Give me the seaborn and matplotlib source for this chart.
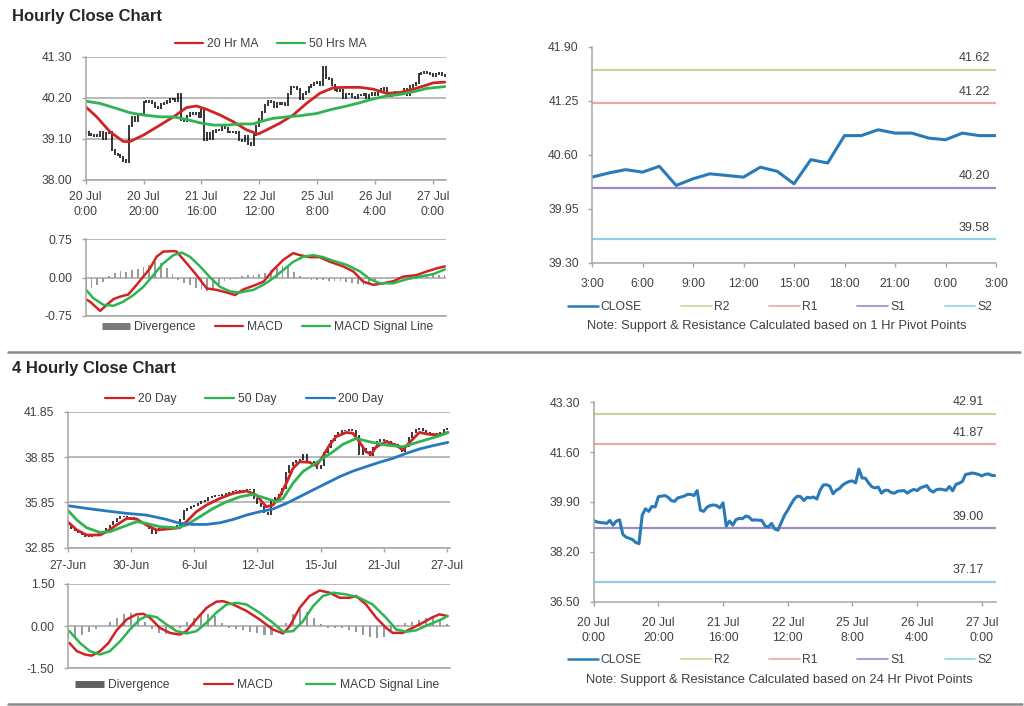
import numpy as np
import seaborn as sns
from matplotlib import pyplot as plt
from matplotlib.lines import Line2D

# ---- hourly data, 20 Jul 0:00 -> 27 Jul (one close per hourly bar) ----
hourly_close = [
    39.27, 39.22, 39.20, 39.19, 39.17, 39.27, 39.11, 39.25, 39.29, 38.80,
    38.70, 38.66, 38.62, 38.52, 38.48, 39.45, 39.67, 39.58, 39.75, 39.73,
    40.08, 40.10, 40.12, 40.06, 39.95, 39.92, 40.04, 40.07, 40.10, 40.16,
    40.16, 40.12, 40.29, 39.62, 39.58, 39.72, 39.78, 39.80, 39.78, 39.70,
    39.87, 39.08, 39.25, 39.11, 39.30, 39.34, 39.33, 39.42, 39.39, 39.28,
    39.29, 39.28, 39.27, 39.08, 39.05, 39.17, 38.98, 38.94, 39.20, 39.45,
    39.62, 39.82, 40.00, 40.10, 40.08, 39.95, 40.06, 40.04, 40.07, 40.00,
    40.30, 40.48, 40.49, 40.44, 40.18, 40.30, 40.36, 40.48, 40.55, 40.60,
    40.62, 40.55, 41.02, 40.72, 40.71, 40.55, 40.42, 40.38, 40.41, 40.20,
    40.30, 40.30, 40.22, 40.20, 40.27, 40.28, 40.29, 40.20, 40.28, 40.33,
    40.29, 40.38, 40.42, 40.46, 40.30, 40.24, 40.32, 40.34, 40.32, 40.30,
    40.43, 40.28, 40.50, 40.54, 40.60, 40.84, 40.86, 40.89, 40.87, 40.84,
    40.79, 40.84, 40.86, 40.81, 40.80]
hourly_ticks = [0, 20, 40, 60, 80, 100, 120]
hourly_labels = ['20 Jul\n0:00', '20 Jul\n20:00', '21 Jul\n16:00', '22 Jul\n12:00',
                 '25 Jul\n8:00', '26 Jul\n4:00', '27 Jul\n0:00']

ma20_hr_x = [0, 3.8, 8.4, 13, 15.3, 19.9, 25.7, 30.3, 34.9, 38.3, 41.8, 46.4, 51, 55.6, 59.6,
             62.5, 67.1, 71.7, 76.3, 80.9, 85.5, 90.2, 94.8, 99.4, 104, 108.6, 113.2, 117.8, 120.1, 124.1]
ma20_hr = [39.96, 39.69, 39.29, 39.03, 39.03, 39.20, 39.47, 39.69, 39.94, 39.98, 39.89, 39.74, 39.56, 39.34, 39.23,
           39.34, 39.52, 39.74, 40.05, 40.32, 40.47, 40.48, 40.48, 40.43, 40.32, 40.34, 40.43, 40.54, 40.60, 40.62]
ma50_hr_x = [0, 4.9, 9.6, 15.3, 19.9, 25.7, 30.3, 34.9, 39.5, 44.1, 48.7, 53.3, 57.9, 60.2,
             64.8, 69.4, 74, 79.8, 85.5, 90.2, 94.8, 99.4, 104, 108.6, 113.2, 117.8, 124.1]
ma50_hr = [40.11, 40.05, 39.94, 39.80, 39.74, 39.69, 39.69, 39.62, 39.53, 39.47, 39.47, 39.50, 39.50, 39.56,
           39.65, 39.69, 39.72, 39.78, 39.90, 39.98, 40.07, 40.17, 40.25, 40.29, 40.36, 40.45, 40.50]

macd_hr_x = [0, 1.5, 5, 7.3, 9.6, 11.9, 14.7, 17.6, 19.9, 22.2, 24.5, 26.8, 30.3, 31.4, 34.9,
             38.3, 41.8, 45.3, 48.7, 51.6, 54.5, 57.9, 61.4, 64.8, 68.3, 71.7, 74, 77.5, 80.9, 84.4,
             89, 92.5, 95.9, 99.4, 102.8, 106.3, 109.7, 114.3, 117.8, 121.2, 124.1]
macd_hr = [-0.42, -0.47, -0.65, -0.53, -0.42, -0.37, -0.33, -0.14, 0.02, 0.18, 0.41, 0.51, 0.52, 0.51, 0.28,
           0.05, -0.21, -0.24, -0.29, -0.34, -0.23, -0.16, -0.08, 0.15, 0.35, 0.48, 0.44, 0.40, 0.40, 0.31,
           0.22, 0.12, -0.08, -0.14, -0.11, -0.07, 0.02, 0.05, 0.12, 0.18, 0.22]
signal_hr_x = [0, 2.6, 6.1, 9.6, 13, 16.5, 19.9, 23.4, 26.8, 30.3, 33.2, 36, 39.5, 42.9, 46.4,
               49.9, 53.3, 57.9, 61.4, 64.8, 68.3, 71.7, 75.2, 78.6, 82.1, 85.5, 90.2, 94.8, 98.2,
               101.7, 106.3, 110.9, 115.5, 120.1, 124.1]
signal_hr = [-0.23, -0.40, -0.53, -0.55, -0.47, -0.34, -0.18, 0.05, 0.28, 0.44, 0.49, 0.41, 0.22, 0.01, -0.18,
             -0.27, -0.29, -0.24, -0.14, -0.01, 0.15, 0.31, 0.41, 0.44, 0.40, 0.33, 0.25, 0.12, -0.03,
             -0.11, -0.11, -0.03, 0.02, 0.07, 0.16]
# divergence, every second hourly bar
div_hr = [-0.22, -0.20, -0.15, -0.08, 0.04, 0.10, 0.13, 0.12, 0.14, 0.17,
          0.20, 0.24, 0.30, 0.28, 0.18, 0.08, -0.04, -0.10, -0.14, -0.20,
          -0.25, -0.27, -0.22, -0.12, -0.06, -0.04, -0.02, 0.03, 0.05, 0.06,
          0.07, 0.10, 0.14, 0.18, 0.22, 0.23, 0.12, 0.04, -0.03, -0.04,
          -0.05, -0.05, -0.06, -0.07, -0.06, -0.08, -0.10, -0.12, -0.14, -0.10,
          -0.05, -0.03, -0.02, 0.01, 0.02, 0.03, 0.04, 0.05, 0.05, 0.06,
          0.06, 0.05, 0.05]

# ---- last 24 hours, 1 Hr pivots ----
close_1h = [40.33, 40.38, 40.42, 40.39, 40.46, 40.23, 40.31, 40.37, 40.35, 40.33, 40.45, 40.40, 40.25,
            40.54, 40.50, 40.83, 40.83, 40.90, 40.86, 40.86, 40.80, 40.78, 40.86, 40.83, 40.83]
hour_labels = ['3:00', '6:00', '9:00', '12:00', '15:00', '18:00', '21:00', '0:00', '3:00']
pivot_names = ['R2', 'R1', 'S1', 'S2']
pivots_1h = [41.62, 41.22, 40.20, 39.58]
pivots_24h = [42.91, 41.87, 39.00, 37.17]

# ---- 4 hourly data, 27-Jun -> 27-Jul ----
close_4h = [
    34.40, 34.15, 34.00, 33.85, 33.70, 33.60, 33.62, 33.70, 33.75, 33.78,
    33.90, 34.10, 34.35, 34.60, 34.80, 34.92, 34.95, 34.88, 34.82, 34.72,
    34.62, 34.55, 34.40, 34.10, 33.80, 34.05, 34.10, 34.12, 34.15, 34.12,
    34.18, 34.30, 34.70, 35.30, 35.45, 35.55, 35.65, 35.75, 35.90, 36.00,
    36.15, 36.22, 36.28, 36.33, 36.40, 36.45, 36.50, 36.60, 36.64, 36.66,
    36.62, 36.68, 36.70, 36.10, 35.75, 35.55, 35.15, 35.02, 35.95, 36.20,
    36.40, 36.75, 37.85, 38.30, 38.50, 38.60, 38.70, 39.05, 38.55, 38.55,
    38.40, 38.10, 38.30, 39.15, 39.50, 39.95, 40.30, 40.50, 40.58, 40.62,
    40.68, 40.60, 40.30, 39.00, 39.42, 39.20, 38.98, 39.50, 39.90, 40.02,
    39.95, 39.86, 39.78, 39.65, 39.50, 39.20, 39.55, 40.15, 40.50, 40.70,
    40.75, 40.62, 40.48, 40.42, 40.40, 40.37, 40.50, 40.68, 40.75]
day_ticks = [0, 18, 36, 54, 72, 90, 108]
day_labels = ['27-Jun', '30-Jun', '6-Jul', '12-Jul', '15-Jul', '21-Jul', '27-Jul']

ma20_4h_x = [0, 2.6, 5.4, 9.2, 11.1, 13.9, 16.8, 19.6, 22.4, 25.3, 28.1, 31.9, 33.8, 36.6, 39.5,
             43.3, 47.1, 50.9, 53.7, 56.5, 58.4, 60.3, 62.2, 64.1, 66, 68.8, 70.7, 72.6, 74.5, 76.4,
             79.3, 81.2, 83, 84.9, 86.4, 87.8, 90.6, 93.5, 95.4, 97.3, 100.1, 102.9, 105.8, 108.2]
ma20_4h = [34.57, 34.02, 33.69, 33.69, 33.91, 34.35, 34.79, 34.75, 34.35, 34.02, 34.08, 34.17, 34.57, 35.23, 35.67,
           36.11, 36.45, 36.60, 36.33, 35.56, 35.67, 36.22, 37.11, 38.10, 38.54, 38.50, 38.28, 38.87, 39.64, 40.20,
           40.48, 40.42, 39.86, 39.20, 39.03, 39.53, 39.86, 39.64, 39.31, 39.82, 40.48, 40.35, 40.31, 40.48]
ma50_4h_x = [0, 2.6, 5.4, 9.2, 12, 15.8, 19.6, 22.4, 26.2, 31, 33.8, 37.6, 41.4, 45.2, 49, 52.7,
             56.5, 59.4, 61.3, 64.1, 66.9, 69.8, 72.6, 75.5, 78.3, 82.1, 85.9, 90.6, 95.4, 100.1, 104.9, 108.2]
ma50_4h = [35.34, 34.68, 34.17, 33.86, 33.91, 34.24, 34.57, 34.46, 34.24, 34.17, 34.35, 34.90, 35.45, 35.89, 36.22, 36.38,
           36.11, 35.89, 36.11, 37.11, 37.88, 38.32, 38.76, 39.20, 39.69, 40.08, 39.86, 39.64, 39.53, 39.86, 40.19, 40.46]
ma200_4h_x = [0, 5.4, 11.1, 16.8, 22.4, 28.1, 31.9, 35.7, 39.5, 43.3, 47.1, 50.9, 54.6, 58.4,
              62.2, 66, 69.8, 73.6, 77.4, 81.2, 84.9, 88.7, 92.5, 96.3, 100.1, 103.9, 108.2]
ma200_4h = [35.63, 35.45, 35.28, 35.12, 35.01, 34.72, 34.46, 34.39, 34.39, 34.50, 34.72, 35.01, 35.23, 35.41,
            35.78, 36.22, 36.67, 37.11, 37.55, 37.92, 38.21, 38.50, 38.76, 39.09, 39.38, 39.60, 39.82]

macd_4h_x = [0.5, 2.6, 4.9, 6.8, 9.2, 11.6, 13.9, 16.8, 19.6, 21.5, 23.4, 26.2, 29.1, 31.9, 33.8,
             36.6, 39.5, 42.3, 44.2, 47.1, 50.9, 54.6, 58.4, 61.3, 63.2, 66, 68.8, 71.7, 74.5, 77.4,
             80.2, 82.1, 84.9, 87.8, 90.6, 92.5, 95.4, 98.2, 101, 103.9, 105.8, 108.1]
macd_4h = [-0.60, -0.89, -1.01, -1.05, -0.89, -0.60, -0.15, 0.24, 0.42, 0.44, 0.30, -0.06, -0.24, -0.30, -0.18,
           0.24, 0.65, 0.87, 0.89, 0.77, 0.54, 0.24, -0.12, -0.26, 0.0, 0.65, 1.07, 1.27, 1.19, 1.01,
           1.01, 1.07, 0.77, 0.30, -0.06, -0.24, -0.24, -0.06, 0.12, 0.32, 0.42, 0.36]
signal_4h_x = [0.5, 3.5, 6.3, 9.2, 12, 14.9, 17.7, 20.5, 22.9, 25.3, 28.1, 31, 33.8, 36.6, 39.5,
               42.3, 45.2, 48, 50.9, 54.6, 58.4, 61.3, 64.1, 67, 69.8, 72.6, 75.5, 79.3, 83, 86.8,
               90.6, 93.5, 96.3, 99.1, 102.9, 106.7, 108.1]
signal_4h = [-0.18, -0.60, -0.89, -1.01, -0.89, -0.54, -0.12, 0.24, 0.38, 0.32, 0.06, -0.18, -0.26, -0.18, 0.12,
             0.48, 0.77, 0.83, 0.77, 0.48, 0.12, -0.20, -0.18, 0.18, 0.71, 1.07, 1.19, 1.13, 1.01, 0.77,
             0.30, -0.12, -0.20, -0.15, 0.06, 0.26, 0.36]
# divergence, every second 4h bar
div_4h = [-0.45, -0.40, -0.30, -0.20, -0.10, 0.02, 0.15, 0.30, 0.45, 0.48,
          0.35, 0.15, -0.10, -0.25, -0.28, -0.10, -0.05, 0.15, 0.30, 0.40,
          0.45, 0.35, 0.10, -0.05, -0.10, -0.15, -0.20, -0.25, -0.30, -0.30,
          -0.10, 0.10, 0.45, 0.62, 0.50, 0.30, 0.08, -0.05, -0.08, -0.08,
          -0.12, -0.20, -0.32, -0.40, -0.42, -0.40, -0.15, 0.05, 0.10, 0.15,
          0.22, 0.28, 0.30, 0.20, 0.08]

W, H = 1024, 706
RED = '#d02424'
GREEN = '#2eb450'
BLUE = '#2878c0'
CLOSE_C = '#2a7ab8'
DIV_C = '#9a9a9a'
GRID = '#a6a6a6'
TXT = '#404040'
PIVOT_C = ['#c4d79b', '#eba8a8', '#9c8cc6', '#93cfe2']
TICK_FS = 8.7

sns.set_style('white')
plt.rcParams['font.family'] = ['Liberation Sans', 'DejaVu Sans']

fig = plt.figure(figsize=(W / 100, H / 100), dpi=100)


def px_axes(x0, y0, x1, y1):
    return fig.add_axes([x0 / W, 1 - y1 / H, (x1 - x0) / W, (y1 - y0) / H])


def style(ax, xlim, ylim, yticks, grid=True):
    ax.set_xlim(*xlim)
    ax.set_ylim(*ylim)
    ax.set_yticks(yticks)
    ax.set_yticklabels([f'{v:.2f}' for v in yticks])
    ax.grid(False)
    if grid:
        ax.yaxis.grid(True, color=GRID, lw=1.1)
    ax.set_axisbelow(True)
    for s in ['top', 'right']:
        ax.spines[s].set_visible(False)
    for s in ['left', 'bottom']:
        ax.spines[s].set_color(GRID)
        ax.spines[s].set_linewidth(1.1)
    ax.tick_params(axis='both', colors=GRID, labelcolor=TXT, labelsize=TICK_FS,
                   length=3, width=1, direction='out', left=True, bottom=True)
    ax.tick_params(axis='y', pad=6.5)
    ax.set_xlabel('')
    ax.set_ylabel('')


def legend(ax, handles, labels, cx, cy, colsp, hl=2.4, pad=0.35):
    leg = ax.legend(handles, labels, loc='center', bbox_to_anchor=(cx / W, 1 - cy / H),
                    bbox_transform=fig.transFigure, ncol=len(handles), frameon=False,
                    fontsize=8.7, handlelength=hl, handletextpad=pad, columnspacing=colsp,
                    borderpad=0, borderaxespad=0)
    for t in leg.get_texts():
        t.set_color(TXT)


def price_bars(ax, close):
    c = np.asarray(close)
    x = np.arange(len(c))
    prev = np.r_[c[0], c[:-1]]
    ax.vlines(x, np.minimum(prev, c) - 0.03, np.maximum(prev, c) + 0.03, color='black', lw=1.1)


def macd_panel(ax, div_vals, mx, mv, sx, sv):
    ax.bar(np.arange(0, 2 * len(div_vals), 2), div_vals, width=0.6, color=DIV_C, linewidth=0)
    sns.lineplot(x=mx, y=mv, ax=ax, color=RED, linewidth=1.8)
    sns.lineplot(x=sx, y=sv, ax=ax, color=GREEN, linewidth=1.8)


def pivot_panel(ax, x, y, levels, label_pos):
    for lvl, col in zip(levels, PIVOT_C):
        ax.axhline(lvl, color=col, lw=1.6)
        ax.annotate(f'{lvl:.2f}', xy=(label_pos, lvl), xycoords=('axes fraction', 'data'),
                    xytext=(0, 4), textcoords='offset points', ha='right', va='bottom',
                    fontsize=9, color=TXT)
    sns.lineplot(x=x, y=y, ax=ax, color=CLOSE_C, linewidth=2.2)


def div_handle(color):
    return Line2D([], [], color=color, lw=5, solid_capstyle='butt')


piv_handles = [Line2D([], [], color=CLOSE_C, lw=1.8)] + [Line2D([], [], color=c, lw=1.2) for c in PIVOT_C]
piv_labels = ['CLOSE'] + pivot_names

# ---------------- Hourly close chart ----------------
fig.text(12 / W, 1 - 16 / H, 'Hourly Close Chart', fontsize=12, fontweight='bold', va='center')

ax1 = px_axes(85.7, 56.7, 446, 180)
price_bars(ax1, hourly_close)
sns.lineplot(x=ma20_hr_x, y=ma20_hr, ax=ax1, color=RED, linewidth=2)
sns.lineplot(x=ma50_hr_x, y=ma50_hr, ax=ax1, color=GREEN, linewidth=2)
style(ax1, (0, 124.5), (38.0, 41.3), [38.00, 39.10, 40.20, 41.30])
ax1.set_xticks(hourly_ticks)
ax1.set_xticklabels(hourly_labels, linespacing=1.35)
ax1.tick_params(axis='x', pad=5)
legend(ax1, [Line2D([], [], color=RED, lw=1.6), Line2D([], [], color=GREEN, lw=1.6)],
       ['20 Hr MA', '50 Hrs MA'], 271, 44, 1.5, hl=2.3)

ax2 = px_axes(85.7, 239.3, 446, 316)
macd_panel(ax2, div_hr, macd_hr_x, macd_hr, signal_hr_x, signal_hr)
style(ax2, (0, 124.5), (-0.75, 0.75), [-0.75, 0.00, 0.75])
ax2.set_xticks([])
legend(ax2, [div_handle('#7a7a7a'), Line2D([], [], color=RED, lw=1.6),
             Line2D([], [], color=GREEN, lw=1.6)],
       ['Divergence', 'MACD', 'MACD Signal Line'], 268, 327.5, 1.6, hl=2.3)

ax3 = px_axes(592, 46.7, 996, 262.7)
pivot_panel(ax3, list(range(len(close_1h))), close_1h, pivots_1h, 0.985)
style(ax3, (0, 24), (39.30, 41.90), [39.30, 39.95, 40.60, 41.25, 41.90], grid=False)
ax3.set_xticks(list(range(0, 25, 3)))
ax3.set_xticklabels(hour_labels)
ax3.tick_params(axis='x', pad=8)
legend(ax3, piv_handles, piv_labels, 780, 307, 3.3, hl=2.5, pad=0.2)
fig.text(777 / W, 1 - 326 / H, 'Note: Support & Resistance Calculated based on 1 Hr Pivot Points',
         fontsize=9.3, color=TXT, ha='center', va='center')

# ---------------- 4 hourly close chart ----------------
fig.add_artist(Line2D([8 / W, 1020 / W], [1 - 352 / H] * 2, color='#8c8c8c', lw=1.8))
fig.text(12 / W, 1 - 369 / H, '4 Hourly Close Chart', fontsize=12, fontweight='bold', va='center')

ax4 = px_axes(67.7, 411.7, 450, 547.7)
price_bars(ax4, close_4h)
sns.lineplot(x=ma20_4h_x, y=ma20_4h, ax=ax4, color=RED, linewidth=2)
sns.lineplot(x=ma50_4h_x, y=ma50_4h, ax=ax4, color=GREEN, linewidth=2)
sns.lineplot(x=ma200_4h_x, y=ma200_4h, ax=ax4, color=BLUE, linewidth=2)
style(ax4, (0, 108.8), (32.85, 41.85), [32.85, 35.85, 38.85, 41.85])
ax4.set_xticks(day_ticks)
ax4.set_xticklabels(day_labels)
ax4.tick_params(axis='x', pad=6)
legend(ax4, [Line2D([], [], color=c, lw=1.6) for c in (RED, GREEN, BLUE)],
       ['20 Day', '50 Day', '200 Day'], 244.5, 399, 2.4, hl=2.4, pad=0.3)

ax5 = px_axes(67.7, 584, 450, 668.3)
macd_panel(ax5, div_4h, macd_4h_x, macd_4h, signal_4h_x, signal_4h)
style(ax5, (0, 108.8), (-1.5, 1.5), [-1.50, 0.00, 1.50])
ax5.set_xticks([])
legend(ax5, [div_handle('#606060'), Line2D([], [], color=RED, lw=1.6),
             Line2D([], [], color=GREEN, lw=1.6)],
       ['Divergence', 'MACD', 'MACD Signal Line'], 257, 685, 2.8, hl=2.4)

ax6 = px_axes(593.7, 402.3, 996, 601.7)
pivot_panel(ax6, list(range(len(hourly_close))), hourly_close, pivots_24h, 0.97)
style(ax6, (0, 124.4), (36.50, 43.30), [36.50, 38.20, 39.90, 41.60, 43.30], grid=False)
ax6.set_xticks(hourly_ticks)
ax6.set_xticklabels(hourly_labels, linespacing=1.35)
ax6.tick_params(axis='x', pad=8)
legend(ax6, piv_handles, piv_labels, 780, 660, 3.3, hl=2.5, pad=0.2)
fig.text(779 / W, 1 - 680 / H, 'Note: Support & Resistance Calculated based on 24 Hr Pivot Points',
         fontsize=9.3, color=TXT, ha='center', va='center')

fig.add_artist(Line2D([8 / W, 1022 / W], [1 - 703.5 / H] * 2, color='#8c8c8c', lw=1.8))

fig.savefig('out.png', dpi=100)
